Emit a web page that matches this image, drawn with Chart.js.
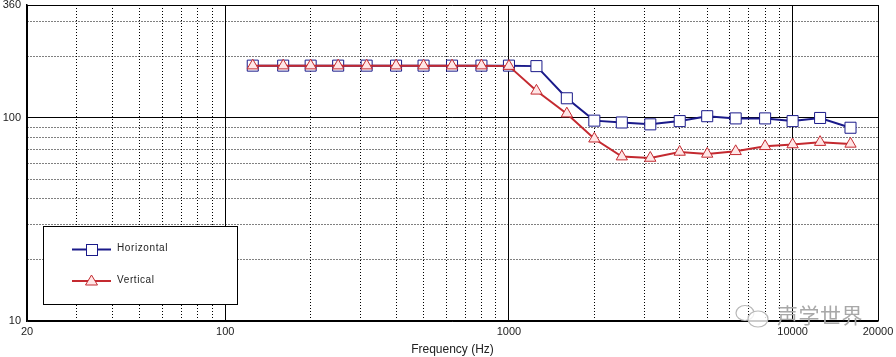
<!DOCTYPE html>
<html>
<head>
<meta charset="utf-8">
<script src="https://cdn.jsdelivr.net/npm/chart.js@4/dist/chart.umd.min.js"></script>
<style>
  html, body { margin: 0; padding: 0; background: #fff; }
  #wrap { width: 896px; height: 357px; position: relative; }
</style>
</head>
<body>
<div id="wrap"><canvas id="chart"></canvas></div>
<script>
// 1/3 octave centre frequencies (Hz)
const freqs = [125, 160, 200, 250, 315, 400, 500, 630, 800, 1000, 1250, 1600, 2000, 2500, 3150, 4000, 5000, 6300, 8000, 10000, 12500, 16000]
const horizontal = [181, 181, 181, 181, 181, 181, 181, 181, 181, 181, 180, 125, 97, 95, 93, 96.5, 102, 99.5, 99.5, 96.5, 100, 89.5]
const vertical = [181, 181, 181, 181, 181, 181, 181, 181, 181, 180, 136, 105, 79, 64.5, 63.5, 68, 66.5, 68.5, 72.5, 74, 76, 74.5]

const xTicks = [20, 30, 40, 50, 60, 70, 80, 90, 100, 200, 300, 400, 500, 600, 700, 800, 900, 1000, 2000, 3000, 4000, 5000, 6000, 7000, 8000, 9000, 10000, 20000]
const xLabels = [20, 100, 1000, 10000, 20000]
const yTicks = [10, 20, 30, 40, 50, 60, 70, 80, 90, 100, 200, 300, 360]
const yLabels = [10, 100, 360]
const xMajor = [20, 100, 1000, 10000, 20000]
const yMajor = [10, 100, 360]

const blue = "#1a1a8a"
const red = "#c42a30"
const font = "'Liberation Sans', Arial, sans-serif"

function toPoints(ys) {
  return freqs.map((f, i) => ({ x: f, y: ys[i] }))
}

// legend box drawn inside the plot, plus the watermark
const overlayPlugin = {
  id: "overlay",
  afterDatasetsDraw(chart) {
    const ctx = chart.ctx
    ctx.save()
    // legend box
    ctx.fillStyle = "#fff"
    ctx.fillRect(43.5, 226.5, 194, 78)
    ctx.strokeStyle = "#000"
    ctx.lineWidth = 1
    ctx.strokeRect(43.5, 226.5, 194, 78)

    const rows = [
      { ds: chart.data.datasets[0], y: 249.5 },
      { ds: chart.data.datasets[1], y: 281 }
    ]
    rows.forEach((r) => {
      ctx.strokeStyle = r.ds.borderColor
      ctx.lineWidth = 2
      ctx.beginPath()
      ctx.moveTo(72, r.y)
      ctx.lineTo(111, r.y)
      ctx.stroke()
      ctx.fillStyle = r.ds.pointBackgroundColor
      ctx.strokeStyle = r.ds.pointBorderColor
      ctx.lineWidth = 1
      if (r.ds.pointStyle === "rect") {
        ctx.fillRect(86.5, r.y - 5, 11, 11)
        ctx.strokeRect(86.5, r.y - 5, 11, 11)
      } else {
        ctx.beginPath()
        ctx.moveTo(91.5, r.y - 6)
        ctx.lineTo(97.5, r.y + 4)
        ctx.lineTo(85.5, r.y + 4)
        ctx.closePath()
        ctx.fill()
        ctx.stroke()
      }
      ctx.fillStyle = "#222"
      ctx.font = "10px " + font
      ctx.textBaseline = "middle"
      ctx.textAlign = "left"
      if (ctx.letterSpacing !== undefined) ctx.letterSpacing = "0.6px"
      ctx.fillText(r.ds.label, 117, r.y - 1)
    })

    // watermark
    ctx.strokeStyle = "#b8b8b8"
    ctx.lineWidth = 1.2
    ctx.beginPath()
    ctx.ellipse(745, 313, 9, 7.5, 0, 0, Math.PI * 2)
    ctx.stroke()
    ctx.fillStyle = "rgba(255,255,255,0.8)"
    ctx.beginPath()
    ctx.ellipse(758, 319, 10, 8, 0, 0, Math.PI * 2)
    ctx.fill()
    ctx.stroke()
    ctx.fillStyle = "#a8a8a8"
    ctx.font = "21px 'Noto Sans CJK SC'"
    ctx.textAlign = "left"
    ctx.textBaseline = "middle"
    if (ctx.letterSpacing !== undefined) ctx.letterSpacing = "0.5px"
    ctx.fillText("声学世界", 777, 315)
    ctx.restore()
  }
}

new Chart(document.getElementById("chart"), {
  type: "line",
  data: {
    datasets: [
      {
        label: "Horizontal",
        data: toPoints(horizontal),
        borderColor: blue,
        borderWidth: 2,
        pointStyle: "rect",
        pointRadius: 7.8,
        pointBackgroundColor: "#fff",
        pointBorderColor: blue,
        pointBorderWidth: 1,
        tension: 0,
        order: 2
      },
      {
        label: "Vertical",
        data: toPoints(vertical),
        borderColor: red,
        borderWidth: 2,
        pointStyle: "triangle",
        pointRadius: 6.5,
        pointBackgroundColor: "#ffe6e6",
        pointBorderColor: red,
        pointBorderWidth: 1,
        tension: 0,
        order: 1
      }
    ]
  },
  options: {
    responsive: true,
    maintainAspectRatio: false,
    animation: false,
    layout: { autoPadding: false, padding: { left: 0, right: 18, top: 5, bottom: 0 } },
    plugins: { legend: { display: false }, tooltip: { enabled: false } },
    scales: {
      x: {
        type: "logarithmic",
        min: 20,
        max: 20000,
        afterBuildTicks: (scale) => { scale.ticks = xTicks.map((v) => ({ value: v })) },
        afterFit: (scale) => {
          scale.height = 36
          scale.paddingLeft = 0
          scale.paddingRight = 0
        },
        ticks: {
          autoSkip: false,
          maxRotation: 0,
          padding: 4,
          color: "#222",
          font: { family: font, size: 11 },
          callback: (v) => (xLabels.includes(v) ? String(v) : "")
        },
        grid: {
          drawTicks: false,
          color: "#000",
          lineWidth: 1
        },
        border: {
          color: "#000",
          width: 1.5,
          dash: (c) => (c.tick && !xMajor.includes(c.tick.value) ? [1, 2] : [])
        },
        title: {
          display: true,
          text: "Frequency (Hz)",
          color: "#222",
          font: { family: font, size: 12 },
          padding: { top: 0, bottom: 0 }
        }
      },
      y: {
        type: "logarithmic",
        min: 10,
        max: 360,
        afterBuildTicks: (scale) => { scale.ticks = yTicks.map((v) => ({ value: v })) },
        afterFit: (scale) => {
          scale.width = 27
          scale.paddingTop = 0
          scale.paddingBottom = 0
        },
        ticks: {
          autoSkip: false,
          padding: 6,
          color: "#222",
          font: { family: font, size: 11 },
          callback: (v) => (yLabels.includes(v) ? String(v) : "")
        },
        grid: {
          drawTicks: false,
          color: "#000",
          lineWidth: 1
        },
        border: {
          color: "#000",
          width: 1.5,
          dash: (c) => (c.tick && !yMajor.includes(c.tick.value) ? [1, 2] : [])
        }
      }
    }
  },
  plugins: [overlayPlugin]
})
</script>
</body>
</html>
